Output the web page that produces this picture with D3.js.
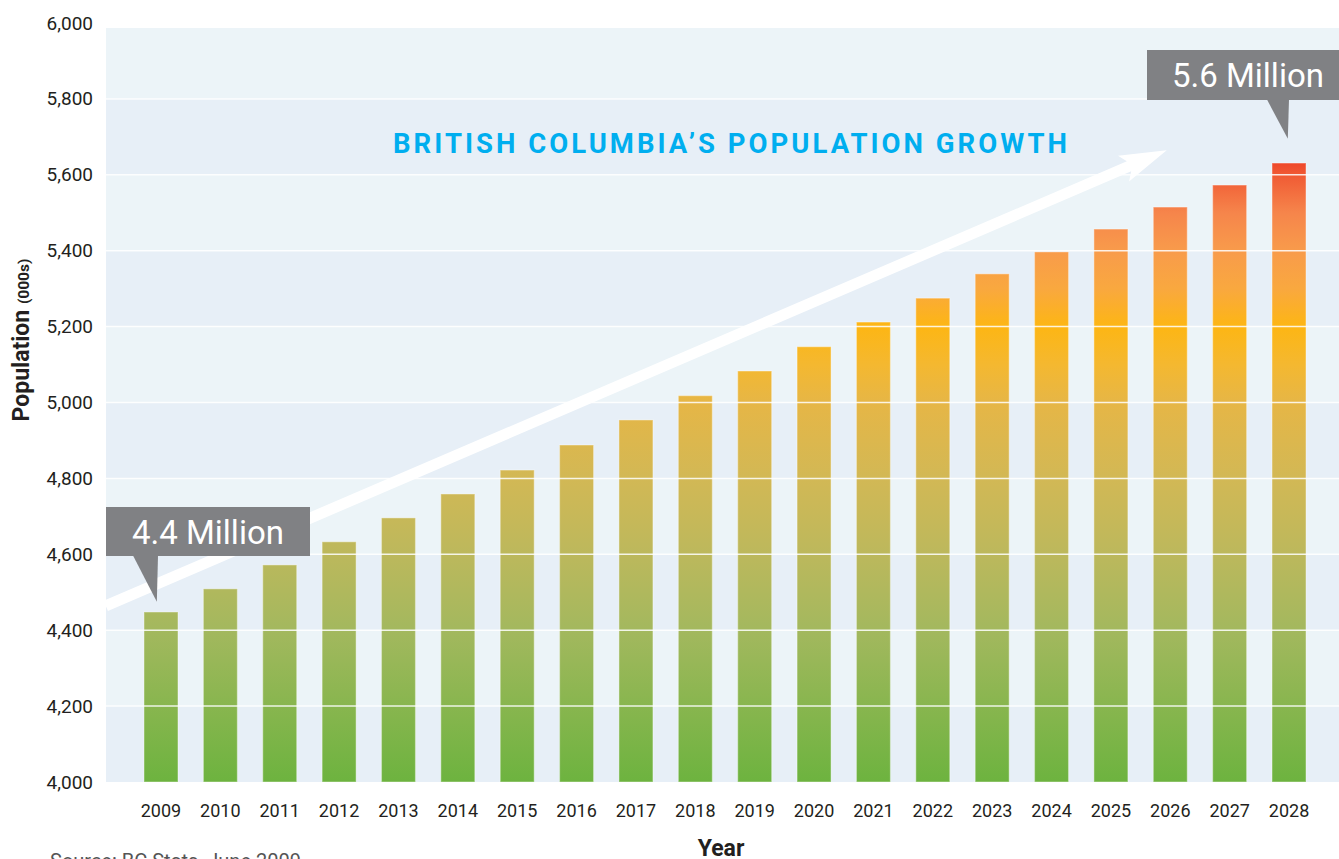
<!DOCTYPE html>
<html><head><meta charset="utf-8">
<script src="https://cdn.jsdelivr.net/npm/d3@7"></script>
<style>
html,body{margin:0;padding:0;background:#fff;overflow:hidden;}
svg{display:block;font-family:Roboto, "DejaVu Sans", sans-serif;}
</style></head>
<body>
<svg id="chart" width="1339" height="859"></svg>
<script>
// ---- data ----
const years = ["2009","2010","2011","2012","2013","2014","2015","2016","2017","2018","2019","2020","2021","2022","2023","2024","2025","2026","2027","2028"];
const population = [4448,4509,4572,4633,4696,4759,4822,4888,4954,5018,5083,5147,5212,5275,5339,5397,5457,5515,5573,5631];
const yTicks = [4000,4200,4400,4600,4800,5000,5200,5400,5600,5800,6000];
const title = "BRITISH COLUMBIA\u2019S POPULATION GROWTH";
const calloutLabels = ["4.4 Million","5.6 Million"];
const sourceText = "Source: BC Stats, June 2009";
// gradient stops, by population value
const gradValues = [4000,4400,4600,4800,5000,5100,5200,5300,5400,5500,5600,5640];
const gradColors = ["#6db33f","#a3b85e","#bcb85c","#d2b855","#e6b646","#f4b830","#fdb614","#f9a83f","#f89b4b","#f6854b","#f05a34","#ee4127"];
// arrow annotation: positions in band-index units and population values
const arrowFrom = {i:-0.93, v:4464};
const arrowTo = {i:16.94, v:5665};

// ---- layout ----
const svg = d3.select("#chart");
const plot = {left:106, right:1339, top:28, bottom:782};

const y = d3.scaleLinear().domain([4000,6000]).range([782,23]);
const x = d3.scaleBand().domain(years).range([131.3,1318.7]).paddingInner(0.4273).paddingOuter(0.2137);
const idx = d3.scaleLinear().domain([0, years.length-1]).range([x(years[0])+x.bandwidth()/2, x(years[years.length-1])+x.bandwidth()/2]);

// background bands
const bands = yTicks.slice(0,-1);
svg.append("g").selectAll("rect").data(bands).join("rect")
  .attr("x", plot.left).attr("width", plot.right-plot.left)
  .attr("y", d => Math.max(y(d+200), plot.top))
  .attr("height", d => y(d) - Math.max(y(d+200), plot.top))
  .attr("fill", (d,i) => ((bands.length-1-i) % 2 === 0) ? "#ecf4f8" : "#e7eff7");

// gradient
const defs = svg.append("defs");
const grad = defs.append("linearGradient").attr("id","barGrad")
  .attr("gradientUnits","userSpaceOnUse")
  .attr("x1",0).attr("x2",0).attr("y1",y(4000)).attr("y2",y(5640));
grad.selectAll("stop").data(gradValues).join("stop")
  .attr("offset", d => (d-4000)/(5640-4000))
  .attr("stop-color", (d,i) => gradColors[i]);

// bars
svg.append("g").selectAll("rect").data(population).join("rect")
  .attr("x", (d,i) => x(years[i]))
  .attr("width", x.bandwidth())
  .attr("y", d => y(d))
  .attr("height", d => y(4000) - y(d))
  .attr("fill", "url(#barGrad)")
  .attr("stroke", "rgba(255,255,255,0.35)")
  .attr("stroke-width", 1.2);

// gridlines over bars
svg.append("g").selectAll("line").data(yTicks.filter(t => t>4000 && t<6000)).join("line")
  .attr("x1", plot.left).attr("x2", plot.right)
  .attr("y1", d => y(d)).attr("y2", d => y(d))
  .attr("stroke", "#fff").attr("stroke-opacity", 0.85).attr("stroke-width", 1.5);

// arrow
{
  const x0 = idx(arrowFrom.i), y0 = y(arrowFrom.v), x1 = idx(arrowTo.i), y1 = y(arrowTo.v);
  const dx = x1-x0, dy = y1-y0, L = Math.hypot(dx,dy), ux = dx/L, uy = dy/L, nx = -uy, ny = ux;
  const headLen = 47, headHalf = 14, shaftHalf = 5.5, notch = 6;
  const bx = x1 - ux*headLen, by = y1 - uy*headLen;
  const nxp = x1 - ux*(headLen-notch), nyp = y1 - uy*(headLen-notch);
  const pts = [
    [x0 + nx*shaftHalf, y0 + ny*shaftHalf],
    [nxp + nx*shaftHalf, nyp + ny*shaftHalf],
    [bx + nx*headHalf, by + ny*headHalf],
    [x1, y1],
    [bx - nx*headHalf, by - ny*headHalf],
    [nxp - nx*shaftHalf, nyp - ny*shaftHalf],
    [x0 - nx*shaftHalf, y0 - ny*shaftHalf]
  ];
  svg.append("path").attr("d", d3.line()(pts) + "Z").attr("fill", "#fff");
}

// axes
const yAxis = d3.axisLeft(y).tickValues(yTicks).tickSize(0).tickPadding(13).tickFormat(d3.format(","));
const gy = svg.append("g").attr("transform", `translate(${plot.left},0)`).call(yAxis);
gy.select(".domain").remove();
gy.selectAll("text").attr("font-size", 19).attr("fill", "#231f20").attr("font-family","Roboto, sans-serif");

const xAxis = d3.axisBottom(x).tickSize(0).tickPadding(22);
const gx = svg.append("g").attr("transform", `translate(0,${y(4000)})`).call(xAxis);
gx.select(".domain").remove();
gx.selectAll("text").attr("font-size", 18).attr("fill", "#231f20").attr("font-family","Roboto, sans-serif");

// axis titles
const yt = svg.append("text").attr("transform", "translate(29,340) rotate(-90)")
  .attr("text-anchor","middle").attr("fill","#231f20").attr("font-weight","bold");
yt.append("tspan").attr("font-size",23).text("Population ");
yt.append("tspan").attr("font-size",15.5).text("(000s)");

svg.append("text").attr("x", 721).attr("y", 856).attr("text-anchor","middle")
  .attr("font-size", 23).attr("font-weight","bold").attr("fill","#231f20").text("Year");

svg.append("text").attr("x", 50).attr("y", 868).attr("font-size", 20).attr("fill","#555").text(sourceText);

// title
svg.append("text").attr("x", 393).attr("y", 153)
  .attr("font-size", 27.5).attr("font-weight","bold").attr("fill","#00aeef")
  .attr("textLength", 674).attr("lengthAdjust","spacing")
  .text(title);

// callouts
function callout(label, box, tipIndex, tipValue, pLeft, pRight) {
  const g = svg.append("g");
  const tx = idx(tipIndex) , ty = y(tipValue);
  g.append("rect").attr("x", box.x).attr("y", box.y).attr("width", box.w).attr("height", box.h).attr("fill", "#808184");
  g.append("path").attr("d", d3.line()([[pLeft, box.y+box.h-0.5],[pRight, box.y+box.h-0.5],[tx, ty]])+"Z").attr("fill","#808184");
  g.append("text").attr("x", box.tx).attr("y", box.y + box.h/2 + 12).attr("text-anchor","middle")
    .attr("font-size", 33).attr("fill","#fff").text(label);
}
callout(calloutLabels[0], {x:106, y:507, w:204, h:49, tx:208}, -0.07, 4475, 133, 158);
callout(calloutLabels[1], {x:1147, y:50, w:200, h:50, tx:1248}, 18.98, 5695, 1267, 1289);
</script>
</body></html>
